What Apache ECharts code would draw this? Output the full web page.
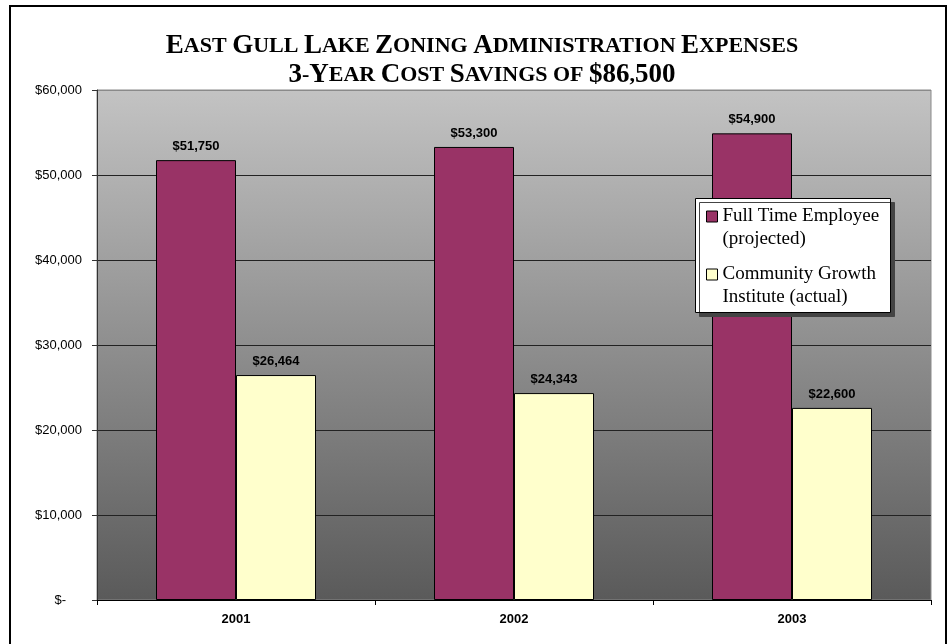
<!DOCTYPE html>
<html>
<head>
<meta charset="utf-8">
<script src="https://cdn.jsdelivr.net/npm/echarts@6/dist/echarts.min.js"></script>
<style>
html,body{margin:0;padding:0;background:#fff;}
#chart{width:948px;height:644px;}
</style>
</head>
<body>
<div id="chart"></div>
<script>
const titleLines = ['East Gull Lake Zoning Administration Expenses', '3-Year Cost Savings of $86,500'];
const categories = ['2001', '2002', '2003'];
const seriesNames = ['Full Time Employee (projected)', 'Community Growth Institute (actual)'];
const legendLabels = [' \nFull Time Employee\n(projected)', ' \nCommunity Growth\nInstitute (actual)'];
const fullTimeEmployee = [51750, 53300, 54900];
const communityGrowth = [26464, 24343, 22600];
const yTickValues = [0, 10000, 20000, 30000, 40000, 50000, 60000];

// small-caps emulation: capitals/digits/$ large, lowercase & punctuation small capitals
function smallCaps(line) {
  let out = '', cur = null, buf = '';
  for (const ch of line) {
    const st = /[A-Z0-9$]/.test(ch) ? 'b' : 's';
    if (st !== cur && buf) { out += '{' + cur + '|' + buf + '}'; buf = ''; }
    cur = st; buf += ch.toUpperCase();
  }
  if (buf) out += '{' + cur + '|' + buf + '}';
  return out;
}
function money(v) {
  return '$' + v.toLocaleString('en-US');
}

const chart = echarts.init(document.getElementById('chart'));
chart.setOption({
  backgroundColor: '#fff',
  animation: false,
  title: {
    text: titleLines.map(smallCaps).join('\n'),
    left: 477,
    textAlign: 'center',
    top: 27,
    textStyle: {
      rich: {
        b: { fontFamily: 'Liberation Serif', fontWeight: 'bold', fontSize: 27, color: '#000', lineHeight: 29 },
        s: { fontFamily: 'Liberation Serif', fontWeight: 'bold', fontSize: 22, color: '#000', lineHeight: 29 }
      }
    }
  },
  graphic: [
    { type: 'rect', z: -10, shape: { x: 10, y: 6, width: 936, height: 660 }, style: { fill: 'none', stroke: '#000', lineWidth: 2 } },
    { type: 'rect', z: 5, shape: { x: 695.5, y: 198.5, width: 195, height: 114 },
      style: { fill: '#fff', stroke: '#000', lineWidth: 1, shadowColor: '#444', shadowBlur: 0, shadowOffsetX: 4, shadowOffsetY: 4 } }
  ],
  legend: {
    z: 10,
    orient: 'vertical',
    left: 706,
    top: 182,
    padding: 0,
    itemGap: -11,
    itemWidth: 11,
    itemHeight: 11,
    icon: 'rect',
    data: seriesNames,
    formatter: name => legendLabels[seriesNames.indexOf(name)],
    itemStyle: { borderColor: '#000', borderWidth: 1 },
    textStyle: { fontFamily: 'Liberation Serif', fontSize: 19, color: '#000', lineHeight: 23 }
  },
  grid: {
    left: 97, right: 17, top: 90, bottom: 44,
    show: true,
    borderColor: '#8a8a8a',
    borderWidth: 1,
    backgroundColor: { type: 'linear', x: 0, y: 0, x2: 0, y2: 1, colorStops: [{ offset: 0, color: '#c3c3c3' }, { offset: 1, color: '#5a5a5a' }] }
  },
  xAxis: {
    type: 'category',
    data: categories,
    axisLine: { show: true, lineStyle: { color: '#000', width: 1 } },
    axisTick: { show: true, length: 5, lineStyle: { color: '#000' } },
    axisLabel: { margin: 13, fontFamily: 'Liberation Sans', fontSize: 13, fontWeight: 'bold', color: '#000' }
  },
  yAxis: {
    type: 'value',
    min: 0, max: 60000, interval: 10000,
    axisLine: { show: true, lineStyle: { color: '#333', width: 1 } },
    axisTick: { show: true, length: 5, lineStyle: { color: '#333' } },
    splitLine: { show: true, lineStyle: { color: yTickValues.map((v, i) => (i === 0 ? 'rgba(0,0,0,0)' : (v === 60000 ? '#8a8a8a' : '#222'))), width: 1 } },
    axisLabel: {
      margin: 15, fontFamily: 'Liberation Sans', fontSize: 13, color: '#000',
      formatter: v => (v === 0 ? '{z|$-}' : money(v)),
      rich: { z: { fontFamily: 'Liberation Sans', fontSize: 13, color: '#000', padding: [0, 16, 0, 0] } }
    }
  },
  series: [
    {
      name: seriesNames[0], type: 'bar', data: fullTimeEmployee, barWidth: 80, barGap: '0%',
      itemStyle: { color: '#993366', borderColor: '#000', borderWidth: 1 },
      label: { show: true, position: 'top', distance: 7, formatter: p => money(p.value), fontFamily: 'Liberation Sans', fontSize: 13, fontWeight: 'bold', color: '#000' }
    },
    {
      name: seriesNames[1], type: 'bar', data: communityGrowth, barWidth: 80, barGap: '0%',
      itemStyle: { color: '#ffffcc', borderColor: '#000', borderWidth: 1 },
      label: { show: true, position: 'top', distance: 7, formatter: p => money(p.value), fontFamily: 'Liberation Sans', fontSize: 13, fontWeight: 'bold', color: '#000' }
    }
  ]
});
</script>
</body>
</html>
